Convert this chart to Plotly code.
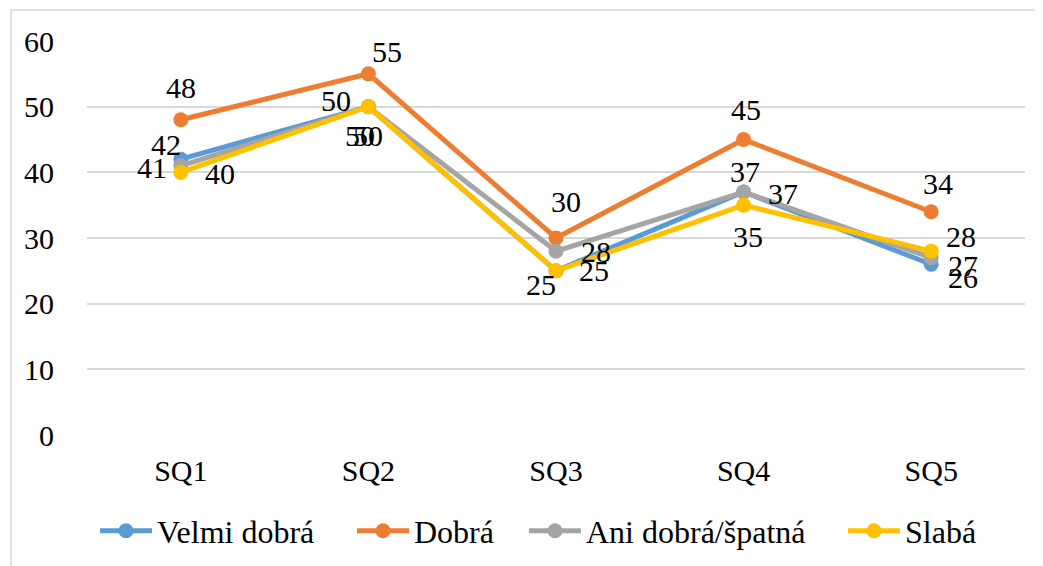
import plotly.graph_objects as go

categories = ["SQ1", "SQ2", "SQ3", "SQ4", "SQ5"]
velmi_dobra = [42, 50, 25, 37, 26]
dobra = [48, 55, 30, 45, 34]
ani = [41, 50, 28, 37, 27]
slaba = [40, 50, 25, 35, 28]
series_names = ["Velmi dobrá", "Dobrá", "Ani dobrá/špatná", "Slabá"]
y_ticks = [0, 10, 20, 30, 40, 50, 60]

colors = ["#5B9BD5", "#ED7D31", "#A5A5A5", "#FFC000"]
series = [velmi_dobra, dobra, ani, slaba]

# label pixel offsets (style only) per series, per point
offsets = [
    [(-15, 15), (-32, 6), (-15, -14), (1, 21), (32, -13)],
    [(0, 32), (19, 22), (10, 37), (2, 30), (7, 28)],
    [(-29, -2), (-8, -29), (40, 0), (39, -1), (32, -8)],
    [(39, -1), (0, -29), (38, 0), (4, -31), (30, 15)],
]
# legend item left edges (page px, style only)
legend_left = [100, 357, 529, 848]

FONT = "Liberation Serif"

# page has an 8px body margin; compensate
W, H = 1035, 558
L, R, T, B = 79, 18, 33, 131
pw, ph = W - L - R, H - T - B

fig = go.Figure()
legend_ids = ["legend", "legend2", "legend3", "legend4"]
for name, vals, col, lid in zip(series_names, series, colors, legend_ids):
    fig.add_trace(go.Scatter(
        x=categories, y=vals, name=name, mode="lines+markers",
        line=dict(color=col, width=5),
        marker=dict(color=col, size=15),
        legend=lid,
    ))

annotations = []
for vals, offs in zip(series, offsets):
    for c, v, (dx, dy) in zip(categories, vals, offs):
        annotations.append(dict(
            x=c, y=v, xref="x", yref="y", text=str(v), showarrow=False,
            xshift=dx, yshift=dy, xanchor="center", yanchor="middle",
            font=dict(family=FONT, size=30, color="black"),
        ))

legends = {}
for lid, lx in zip(legend_ids, legend_left):
    legends[lid] = dict(
        orientation="h", x=(lx - 92) / pw, xanchor="left",
        y=-96 / ph, yanchor="middle",
        font=dict(family=FONT, size=32, color="black"),
        itemwidth=52, bgcolor="rgba(0,0,0,0)",
    )

fig.update_layout(
    width=W, height=H,
    margin=dict(l=L, r=R, t=T, b=B, autoexpand=False),
    paper_bgcolor="white", plot_bgcolor="white",
    font=dict(family=FONT, size=30, color="black"),
    showlegend=True,
    annotations=annotations,
    shapes=[dict(
        type="rect", xref="paper", yref="paper",
        x0=(3 - L) / pw, x1=(W + 20 - L) / pw,
        y0=-(B + 20) / ph, y1=1 + (T - 2) / ph,
        line=dict(color="#D9D9D9", width=1.5), fillcolor="rgba(0,0,0,0)",
        layer="below",
    )],
    **legends,
)
fig.update_xaxes(
    type="category", range=[-0.5, 4.5], showgrid=False, zeroline=False,
    showline=False, ticks="outside", ticklen=9, tickcolor="rgba(0,0,0,0)",
    tickfont=dict(family=FONT, size=30, color="black"), automargin=False,
)
fig.update_yaxes(
    range=[0, 60], tickvals=y_ticks, showgrid=True, gridcolor="#D9D9D9",
    gridwidth=1.5, zeroline=False, showline=False,
    ticks="outside", ticklen=26, tickcolor="rgba(0,0,0,0)",
    tickfont=dict(family=FONT, size=30, color="black"), automargin=False,
)

fig.write_html("out.html")
